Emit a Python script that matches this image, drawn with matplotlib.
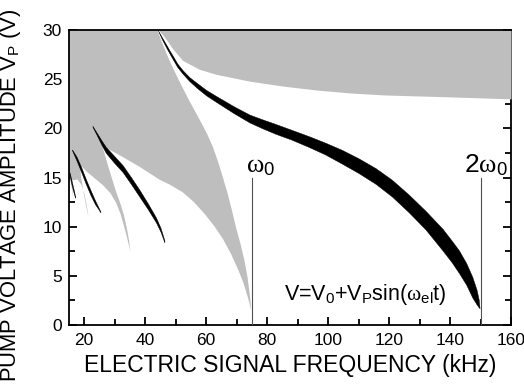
import numpy as np
import matplotlib
matplotlib.use("Agg")
import matplotlib.pyplot as plt

plt.rcParams['font.family'] = ['Liberation Sans', 'DejaVu Sans']
plt.rcParams['mathtext.fontset'] = 'custom'
plt.rcParams['mathtext.rm'] = 'Liberation Sans'
plt.rcParams['mathtext.it'] = 'Liberation Serif'
plt.rcParams['mathtext.bf'] = 'Liberation Sans:bold'

GRAY = '#bebebe'

# instability tongues (kHz, V) - edges traced tongue by tongue
f1_right_x = [44.0, 45.3, 47.0, 49.0, 51.5, 54.3, 57.3, 60.2, 62.2, 63.9, 65.5, 67.1, 68.5, 69.8, 71.3, 72.6, 73.6, 74.3, 74.8]
f1_right_y = [30.0, 28.9, 27.6, 26.2, 24.6, 22.9, 21.2, 19.5, 18.1, 16.6, 15.0, 13.3, 11.6, 9.9, 8.2, 6.5, 4.8, 3.1, 1.5]
f1_left_x = [74.8, 73.6, 72.2, 70.4, 68.2, 65.6, 62.8, 59.5, 56.0, 52.3, 48.5, 44.6, 38.1, 32.0, 26.6, 25.6]
f1_left_y = [1.5, 2.9, 4.3, 5.7, 7.2, 8.7, 10.0, 11.3, 12.5, 13.5, 14.2, 14.8, 16.1, 17.2, 18.1, 18.55]

f2_right_x = [25.6, 26.6, 27.8, 29.0, 30.4, 31.8, 33.0, 34.0, 34.7, 35.1]
f2_right_y = [18.55, 17.5, 16.2, 15.0, 13.6, 12.4, 11.2, 9.8, 8.6, 7.5]
f2_left_x = [35.1, 34.2, 33.1, 31.9, 30.5, 28.6, 26.2, 23.5, 20.8, 18.6]
f2_left_y = [7.5, 8.7, 10.0, 11.3, 12.4, 13.4, 14.2, 14.9, 15.6, 16.3]

f3_right_x = [18.6, 19.0, 19.7, 20.5, 21.0, 21.4]
f3_right_y = [16.3, 15.0, 13.6, 12.3, 11.5, 10.9]
f3_left_x = [21.4, 20.8, 20.0, 19.0, 17.8, 15.9]
f3_left_y = [10.9, 12.2, 13.4, 14.3, 14.8, 14.7]

f4_right_x = [15.9, 16.2, 16.4]
f4_right_y = [14.7, 13.7, 12.8]
f4_left_x = [16.4, 16.0, 15.4, 15.0]
f4_left_y = [12.8, 13.8, 14.8, 15.2]

# upper tongue, lower boundary
top_x = [44.3, 45.5, 47.0, 49.0, 52.3, 57.8, 63.2, 74.2, 85.1, 96.1, 107.0, 118.0, 128.9, 139.9, 160.0]
top_y = [30.0, 29.6, 29.0, 28.1, 26.9, 26.0, 25.5, 24.8, 24.3, 23.9, 23.6, 23.4, 23.3, 23.2, 23.0]

# response branches: x, upper edge, lower edge
b1_x = [44.1, 45.5, 47.0, 48.0, 49.0, 50.5, 52.3, 54.5, 57.0, 60.0, 63.2, 69.0, 74.2, 78.1, 82.7, 88.0, 93.7, 99.0,
        104.6, 110.0, 115.6, 121.0, 126.5, 132.0, 137.5, 140.5, 142.9, 145.3, 147.3, 148.7, 149.4, 149.7]
b1_hi = [30.0, 29.25, 28.45, 27.9, 27.4, 26.6, 25.9, 25.2, 24.6, 23.9, 23.3, 22.25, 21.4, 20.95, 20.45, 19.85, 19.2,
         18.55, 17.8, 16.95, 15.95, 14.75, 13.25, 11.6, 9.8, 8.6, 7.6, 6.3, 4.9, 3.6, 2.6, 1.7]
b1_lo = [30.0, 29.05, 28.15, 27.6, 27.05, 26.25, 25.55, 24.8, 24.1, 23.35, 22.7, 21.55, 20.6, 20.05, 19.45, 18.85,
         18.1, 17.35, 16.4, 15.45, 14.35, 13.05, 11.45, 9.7, 7.6, 6.4, 5.3, 4.1, 2.8, 2.1, 1.8, 1.7]

b2_x = [22.7, 24.2, 25.6, 27.1, 29.8, 32.6, 35.3, 38.1, 40.8, 43.5, 45.0, 46.3]
b2_hi = [20.25, 19.5, 18.8, 18.1, 17.2, 16.25, 15.05, 13.75, 12.4, 10.95, 9.9, 8.6]
b2_lo = [20.15, 19.25, 18.35, 17.5, 16.5, 15.55, 14.35, 13.05, 11.8, 10.45, 9.5, 8.4]

b3_x = [16.0, 17.5, 19.0, 20.5, 22.0, 23.5, 24.6, 25.3]
b3_hi = [17.85, 17.1, 16.05, 14.85, 13.75, 12.7, 12.0, 11.55]
b3_lo = [17.75, 16.7, 15.55, 14.35, 13.25, 12.3, 11.8, 11.45]

b4_x = [15.1, 15.6, 16.2, 16.7, 17.0]
b4_hi = [15.6, 15.0, 14.2, 13.55, 13.05]
b4_lo = [15.4, 14.6, 13.8, 13.25, 12.95]

fig = plt.figure(figsize=(5.24, 3.92), dpi=100)
ax = fig.add_axes([69 / 524, 1 - 325 / 392, 442 / 524, 295 / 392])

# big gray region on the left, built from the tongue edges
poly_x = [15.0] + f1_right_x + f1_left_x + f2_right_x + f2_left_x + f3_right_x + f3_left_x + f4_right_x + f4_left_x
poly_y = [30.0] + f1_right_y + f1_left_y + f2_right_y + f2_left_y + f3_right_y + f3_left_y + f4_right_y + f4_left_y
ax.fill(poly_x, poly_y, color=GRAY, lw=0, zorder=2)
ax.fill_between(top_x, top_y, 30, color=GRAY, lw=0, zorder=2)

for bx, hi, lo in [(b1_x, b1_hi, b1_lo), (b2_x, b2_hi, b2_lo), (b3_x, b3_hi, b3_lo), (b4_x, b4_hi, b4_lo)]:
    ax.fill_between(bx, lo, hi, color='black', lw=0.3, edgecolor='black', zorder=3)

# resonance markers
ax.plot([75, 75], [0, 15], color='#505050', lw=0.8, zorder=3)
ax.plot([150, 150], [0, 15], color='#505050', lw=0.8, zorder=3)
ax.text(73.0, 15.5, r'$\omega_{0}$', fontsize=19, zorder=4)
ax.text(144.6, 15.5, r'2$\omega_{0}$', fontsize=19, zorder=4)
ax.text(85.5, 2.5, r'V=V$_\mathrm{0}$+V$_\mathrm{P}$sin($\omega_\mathrm{el}$t)', fontsize=15.5, zorder=4)

ax.set_xlim(15, 160)
ax.set_ylim(0, 30)
ax.set_xticks([20, 40, 60, 80, 100, 120, 140, 160])
ax.set_yticks([0, 5, 10, 15, 20, 25, 30])
ax.xaxis.set_minor_locator(matplotlib.ticker.MultipleLocator(10))
ax.yaxis.set_minor_locator(matplotlib.ticker.MultipleLocator(2.5))
ax.tick_params(which='both', direction='in', right=True, top=False, width=1.3, labelsize=12.5)
ax.tick_params(which='major', length=6)
ax.tick_params(which='minor', length=4)
ax.tick_params(axis='x', pad=6)
ax.tick_params(axis='y', pad=5)
for side in ['left', 'bottom', 'top', 'right']:
    ax.spines[side].set_linewidth(1.3)
ax.spines['right'].set_zorder(1.8)

ax.set_xlabel('ELECTRIC SIGNAL FREQUENCY (kHz)', fontsize=16.5, labelpad=4)
ax.set_ylabel(r'PUMP VOLTAGE AMPLITUDE V$_\mathrm{P}$ (V)', fontsize=15.8)
ax.yaxis.set_label_coords(-0.103, 0.44)

fig.savefig('out.png', dpi=100)
